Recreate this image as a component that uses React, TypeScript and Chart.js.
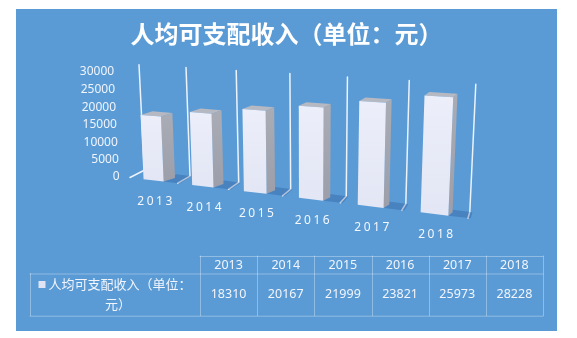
import React, { useEffect, useRef } from "react";
import { Chart, registerables } from "chart.js";

Chart.register(...registerables);

// ---------------- data ----------------
const CATEGORIES = ["2013", "2014", "2015", "2016", "2017", "2018"];
const INCOME = [18310, 20167, 21999, 23821, 25973, 28228];
const Y_TICKS = [0, 5000, 10000, 15000, 20000, 25000, 30000];
const Y_MAX = 30000;
const TITLE = "人均可支配收入（单位：元）";
const SERIES_LINE1 = "人均可支配收入（单位：";
const SERIES_LINE2 = "元）";

// ---------------- styling / projection calibration ----------------
const W = 577;
const H = 338;
const PANEL = { x: 16, y: 9, w: 541, h: 322 };
const BLUE = "#5a9bd6";
const CJK = '"Noto Sans CJK SC", "Noto Sans", sans-serif';
const LATIN = '"Noto Sans", "Open Sans", sans-serif';

// front plane of the bars: normalized (s along category axis, t along value axis) -> page px
const CAL_SRC: number[][] = [[0, 0], [0, 1], [1, 0], [1, 1]];
const CAL_DST: number[][] = [[130, 177.5], [124.7, 72], [468, 218], [474, 90.5]];
// depth offsets (px) at s=0 and s=1
const BAR_DEPTH = [[12.4, -3.6], [3.8, -3.4]];
const WALL_DEPTH = [[14.3, -7.3], [1.8, -6.2]];

function solveHomography(src: number[][], dst: number[][]) {
  const A: number[][] = [];
  for (let i = 0; i < 4; i++) {
    const [s, t] = src[i];
    const [x, y] = dst[i];
    A.push([s, t, 1, 0, 0, 0, -s * x, -t * x, x]);
    A.push([0, 0, 0, s, t, 1, -s * y, -t * y, y]);
  }
  const n = 8;
  for (let c = 0; c < n; c++) {
    let p = c;
    for (let r = c + 1; r < n; r++) if (Math.abs(A[r][c]) > Math.abs(A[p][c])) p = r;
    [A[c], A[p]] = [A[p], A[c]];
    for (let r = 0; r < n; r++) {
      if (r === c) continue;
      const f = A[r][c] / A[c][c];
      for (let k = c; k <= n; k++) A[r][k] -= f * A[c][k];
    }
  }
  return A.map((row, i) => row[n] / row[i]);
}
const HM = solveHomography(CAL_SRC, CAL_DST);
function proj(s: number, t: number): [number, number] {
  const w = HM[6] * s + HM[7] * t + 1;
  return [(HM[0] * s + HM[1] * t + HM[2]) / w, (HM[3] * s + HM[4] * t + HM[5]) / w];
}
function lerpOff(o: number[][], s: number): [number, number] {
  return [o[0][0] + (o[1][0] - o[0][0]) * s, o[0][1] + (o[1][1] - o[0][1]) * s];
}
function add(p: [number, number], d: [number, number]): [number, number] {
  return [p[0] + d[0], p[1] + d[1]];
}
function poly(ctx: CanvasRenderingContext2D, pts: [number, number][], fill: string | CanvasGradient) {
  ctx.beginPath();
  ctx.moveTo(pts[0][0], pts[0][1]);
  for (let i = 1; i < pts.length; i++) ctx.lineTo(pts[i][0], pts[i][1]);
  ctx.closePath();
  ctx.fillStyle = fill;
  ctx.fill();
}

const scene3d = {
  id: "scene3d",
  beforeDraw(chart: any) {
    const ctx: CanvasRenderingContext2D = chart.ctx;
    ctx.save();
    ctx.fillStyle = "#ffffff";
    ctx.fillRect(0, 0, W, H);
    ctx.fillStyle = BLUE;
    ctx.fillRect(PANEL.x, PANEL.y, PANEL.w, PANEL.h);
    ctx.restore();
  },
  afterDatasetsDraw(chart: any) {
    const ctx: CanvasRenderingContext2D = chart.ctx;
    const area = chart.chartArea;
    const xs = chart.scales.x;
    const ys = chart.scales.y;
    const toS = (px: number) => (px - area.left) / (area.right - area.left);
    const toT = (py: number) => (area.bottom - py) / (area.bottom - area.top);
    ctx.save();

    // wall grid lines at category boundaries + floor lines
    const n = chart.data.labels.length;
    const bounds: number[] = [];
    for (let i = 0; i <= n; i++) {
      if (i === 0) bounds.push(area.left);
      else if (i === n) bounds.push(area.right);
      else bounds.push((xs.getPixelForTick(i - 1) + xs.getPixelForTick(i)) / 2);
    }
    const tTop = toT(ys.getPixelForValue(Y_MAX));
    ctx.strokeStyle = "rgba(244,248,253,0.95)";
    ctx.lineWidth = 1.5;
    ctx.lineCap = "round";
    bounds.forEach((bx) => {
      const s = toS(bx);
      const wo = lerpOff(WALL_DEPTH, s);
      const f0 = proj(s, 0);
      const b0 = add(f0, wo);
      const b1 = add(proj(s, tTop), wo);
      ctx.beginPath();
      ctx.moveTo(f0[0], f0[1]);
      ctx.lineTo(b0[0], b0[1]);
      ctx.lineTo(b1[0], b1[1]);
      ctx.stroke();
    });

    // bars
    const meta = chart.getDatasetMeta(0);
    meta.data.forEach((el: any) => {
      const s0 = toS(el.x - el.width / 2);
      const s1 = toS(el.x + el.width / 2);
      const t = toT(el.y);
      const d0 = lerpOff(BAR_DEPTH, s0);
      const d1 = lerpOff(BAR_DEPTH, s1);
      // floor shadow
      const s2 = s1 + 0.055;
      poly(ctx, [proj(s1, 0), proj(s2, 0), add(proj(s2, 0), lerpOff(WALL_DEPTH, s2)), add(proj(s1, 0), lerpOff(WALL_DEPTH, s1))], "rgba(25,70,135,0.28)");
      const fl0 = proj(s0, 0), fr0 = proj(s1, 0), fr1 = proj(s1, t), fl1 = proj(s0, t);
      // side face
      const sg = ctx.createLinearGradient(0, fr1[1], 0, fr0[1]);
      sg.addColorStop(0, "#a9abb5");
      sg.addColorStop(1, "#9c9ea9");
      poly(ctx, [fr0, add(fr0, d1), add(fr1, d1), fr1], sg);
      // top face
      poly(ctx, [fl1, fr1, add(fr1, d1), add(fl1, d0)], "#b7b9c2");
      // front face
      const fg = ctx.createLinearGradient(0, fl1[1], 0, fl0[1]);
      fg.addColorStop(0, "#eceefa");
      fg.addColorStop(1, "#e3e6f4");
      poly(ctx, [fl0, fr0, fr1, fl1], fg);
    });

    // y tick labels
    ctx.fillStyle = "#f0f4fb";
    ctx.font = `12px ${LATIN}`;
    ctx.textAlign = "right";
    ctx.textBaseline = "middle";
    Y_TICKS.forEach((v) => {
      const p = proj(-0.032, toT(ys.getPixelForValue(v)));
      ctx.fillText(String(v), p[0] - 1.5, p[1]);
    });

    // x category labels
    ctx.font = `12px ${LATIN}`;
    ctx.fillStyle = "#f4f7fc";
    ctx.textAlign = "center";
    (ctx as any).letterSpacing = "2.5px";
    chart.data.labels.forEach((lab: string, i: number) => {
      const p = proj(toS(xs.getPixelForTick(i)), 0);
      ctx.fillText(lab, p[0] + 2.5, p[1] + 21);
    });
    (ctx as any).letterSpacing = "0px";

    // data table
    const tl = 30, c0 = 200, tr = 543;
    const cw = (tr - c0) / n;
    const yh = 256, ym = 273.5, yb = 315.7;
    ctx.strokeStyle = "rgba(255,255,255,0.33)";
    ctx.lineWidth = 1;
    ctx.beginPath();
    ctx.moveTo(c0, yh + 0.5); ctx.lineTo(tr, yh + 0.5);
    ctx.moveTo(tl, ym + 0.5); ctx.lineTo(tr, ym + 0.5);
    ctx.moveTo(tl, yb + 0.5); ctx.lineTo(tr, yb + 0.5);
    ctx.moveTo(tl + 0.5, ym); ctx.lineTo(tl + 0.5, yb);
    for (let k = 0; k <= n; k++) {
      const x = Math.round(c0 + k * cw) + 0.5;
      ctx.moveTo(x, yh); ctx.lineTo(x, yb);
    }
    ctx.stroke();
    ctx.fillStyle = "#f2f5fb";
    ctx.font = `12.5px ${LATIN}`;
    ctx.textAlign = "center";
    const vals = chart.data.datasets[0].data;
    chart.data.labels.forEach((lab: string, i: number) => {
      const cx = c0 + (i + 0.5) * cw;
      ctx.fillText(lab, cx, (yh + ym) / 2 + 0.5);
      ctx.fillText(String(vals[i]), cx, (ym + yb) / 2 - 0.5);
    });
    // legend cell
    ctx.font = `13px ${CJK}`;
    const cxL = (tl + c0) / 2;
    const sq = 7, gap = 3;
    const w1 = ctx.measureText(SERIES_LINE1).width + sq + gap;
    const x1 = cxL - w1 / 2;
    const l1y = 284.5, l2y = 304.5;
    ctx.fillStyle = "#dfe3f3";
    ctx.fillRect(x1, l1y - sq / 2, sq, sq);
    ctx.fillStyle = "#f2f5fb";
    ctx.textAlign = "left";
    ctx.fillText(SERIES_LINE1, x1 + sq + gap, l1y);
    ctx.textAlign = "center";
    ctx.fillText(SERIES_LINE2, cxL + 3, l2y);

    ctx.restore();
  },
};

export default function App() {
  const ref = useRef<HTMLCanvasElement | null>(null);
  useEffect(() => {
    document.body.style.margin = "0";
    const canvas = ref.current;
    if (!canvas) return;
    const chart = new Chart(canvas, {
      type: "bar",
      data: {
        labels: CATEGORIES,
        datasets: [
          {
            label: TITLE,
            data: INCOME,
            backgroundColor: "rgba(0,0,0,0)",
            borderWidth: 0,
            barPercentage: 0.84,
            categoryPercentage: 0.5,
          },
        ],
      },
      options: {
        responsive: false,
        animation: false,
        devicePixelRatio: 1,
        layout: { padding: { top: 9, left: 16, right: 20, bottom: 20 } },
        scales: {
          x: { display: false },
          y: { display: false, min: 0, max: Y_MAX, ticks: { stepSize: 5000 } },
        },
        plugins: {
          legend: { display: false },
          tooltip: { enabled: false },
          title: {
            display: true,
            text: TITLE,
            color: "#ffffff",
            font: { family: CJK, size: 24, weight: "bold" },
            padding: { top: 10, bottom: 10 },
          },
        },
      },
      plugins: [scene3d],
    } as any);
    return () => chart.destroy();
  }, []);
  return (
    <div style={{ width: W, height: H }}>
      <canvas ref={ref} width={W} height={H} style={{ display: "block" }} />
    </div>
  );
}
